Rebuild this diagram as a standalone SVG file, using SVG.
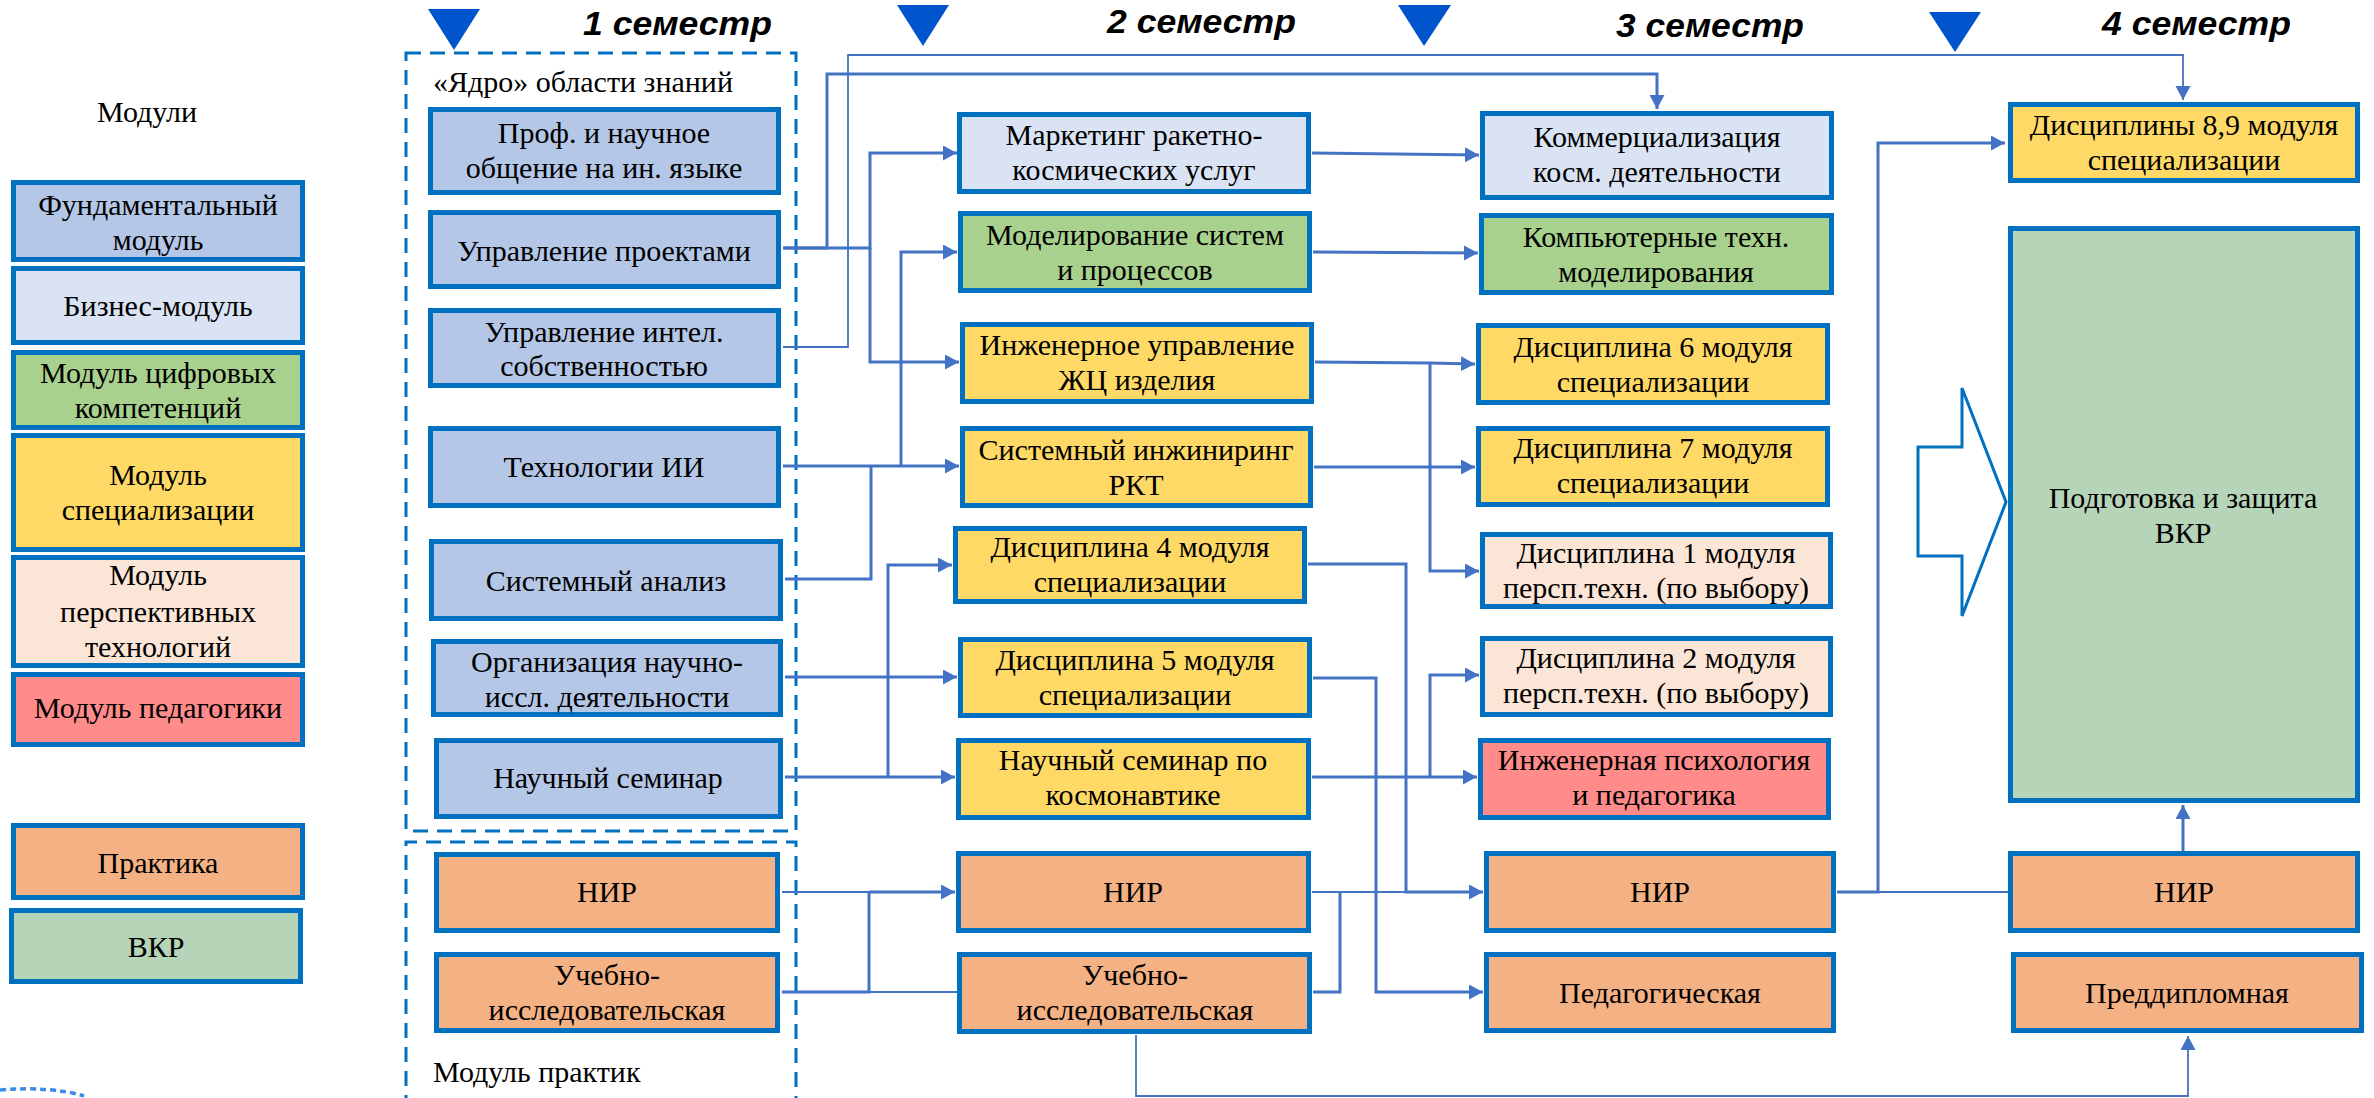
<svg xmlns="http://www.w3.org/2000/svg" width="2374" height="1098" viewBox="0 0 2374 1098">
<style>
.n{stroke:#0070C0;stroke-width:5}
.f{fill:#B4C7E7}.b{fill:#DAE3F3}.d{fill:#A9D18E}.s{fill:#FFD966}.p{fill:#FBE5D6}.g{fill:#FF8B8B}.pr{fill:#F4B183}.v{fill:#B6D4B7}
text{font-family:"Liberation Serif","Times New Roman",serif;font-size:30px;fill:#000}
.c{text-anchor:middle}
.sem{font-family:"Liberation Sans",Arial,sans-serif;font-weight:bold;font-style:italic;font-size:33px}
.l{fill:none;stroke:#4472C4;stroke-width:3}
.t{fill:none;stroke:#4472C4;stroke-width:1.8}
.dash{fill:none;stroke:#0070C0;stroke-width:3;stroke-dasharray:15 9}
.tri{fill:#0055CC}
</style>
<defs>
<marker id="a" markerUnits="userSpaceOnUse" markerWidth="16" markerHeight="16" refX="14" refY="7.5" orient="auto">
<path d="M0,0 L14,7.5 L0,15 z" fill="#4472C4"/>
</marker>
</defs>
<rect width="2374" height="1098" fill="#fff"/>

<!-- semester headers -->
<g id="semesters">
<polygon class="tri" points="428,9 480,9 454,50"/>
<polygon class="tri" points="897,5 949,5 923,46"/>
<polygon class="tri" points="1398,5 1451,5 1424,46"/>
<polygon class="tri" points="1929,12 1981,12 1955,52"/>
<text class="sem" x="583" y="35" textLength="189" lengthAdjust="spacingAndGlyphs">1 семестр</text>
<text class="sem" x="1107" y="33" textLength="189" lengthAdjust="spacingAndGlyphs">2 семестр</text>
<text class="sem" x="1616" y="37" textLength="188" lengthAdjust="spacingAndGlyphs">3 семестр</text>
<text class="sem" x="2102" y="35" textLength="189" lengthAdjust="spacingAndGlyphs">4 семестр</text>
</g>

<!-- legend -->
<g id="legend">
<text class="c" x="147" y="122">Модули</text>
<g id="leg-fund"><rect class="n f" x="13.5" y="182.5" width="289" height="77"/><text class="c" x="158" y="215">Фундаментальный</text><text class="c" x="158" y="250">модуль</text></g>
<g id="leg-bus"><rect class="n b" x="13.5" y="268.5" width="289" height="74"/><text class="c" x="158" y="316">Бизнес-модуль</text></g>
<g id="leg-dig"><rect class="n d" x="13.5" y="352.5" width="289" height="75"/><text class="c" x="158" y="383">Модуль цифровых</text><text class="c" x="158" y="418">компетенций</text></g>
<g id="leg-spec"><rect class="n s" x="13.5" y="435.5" width="289" height="114"/><text class="c" x="158" y="485">Модуль</text><text class="c" x="158" y="520">специализации</text></g>
<g id="leg-persp"><rect class="n p" x="13.5" y="557.5" width="289" height="108"/><text class="c" x="158" y="585">Модуль</text><text class="c" x="158" y="622">перспективных</text><text class="c" x="158" y="657">технологий</text></g>
<g id="leg-ped"><rect class="n g" x="13.5" y="674.5" width="289" height="70"/><text class="c" x="158" y="718">Модуль педагогики</text></g>
<g id="leg-prak"><rect class="n pr" x="13.5" y="825.5" width="289" height="72"/><text class="c" x="158" y="873">Практика</text></g>
<g id="leg-vkr"><rect class="n v" x="11.5" y="910.5" width="289" height="71"/><text class="c" x="156" y="957">ВКР</text></g>
<path d="M0,1090 Q50,1086 84,1096" fill="none" stroke="#3B8BEB" stroke-width="3.5" stroke-dasharray="6 4"/>
</g>

<!-- group frames -->
<g id="frames">
<rect class="dash" x="406" y="53" width="390" height="778"/>
<path class="dash" d="M406,1110 V842 H796 V1110"/>
<text x="433" y="92">«Ядро» области знаний</text>
<text x="433" y="1082">Модуль практик</text>
</g>

<!-- connectors -->
<g id="connectors">
<path class="l" d="M783,248 H827 V74 H1657 V109" marker-end="url(#a)"/>
<path class="l" d="M783,248 H870 V153 H957" marker-end="url(#a)"/>
<path class="l" d="M870,248 V362 H959" marker-end="url(#a)"/>
<path class="t" d="M783,347 H848 V55 H2183 V100" marker-end="url(#a)"/>
<path class="l" d="M783,466 H959" marker-end="url(#a)"/>
<path class="l" d="M901,466 V252 H957" marker-end="url(#a)"/>
<path class="l" d="M785,579 H871 V466"/>
<path class="l" d="M785,777 H955" marker-end="url(#a)"/>
<path class="l" d="M888,777 V565 H952" marker-end="url(#a)"/>
<path class="l" d="M785,677 H957" marker-end="url(#a)"/>
<path class="t" d="M782,892 H869"/>
<path class="l" d="M869,892 H955" marker-end="url(#a)"/>
<path class="l" d="M782,992 H869 V892"/>
<path class="t" d="M869,992 H957"/>
<path class="l" d="M1312,153 L1479,155" marker-end="url(#a)"/>
<path class="l" d="M1313,252 L1478,253" marker-end="url(#a)"/>
<path class="l" d="M1315,362 L1430,363 L1475,364" marker-end="url(#a)"/>
<path class="l" d="M1430,363 V571 H1479" marker-end="url(#a)"/>
<path class="l" d="M1314,467 H1475" marker-end="url(#a)"/>
<path class="l" d="M1308,564 H1406 V892 H1483" marker-end="url(#a)"/>
<path class="l" d="M1313,678 H1376 V992 H1483" marker-end="url(#a)"/>
<path class="l" d="M1312,777 H1477" marker-end="url(#a)"/>
<path class="l" d="M1430,777 V675 H1479" marker-end="url(#a)"/>
<path class="t" d="M1312,892 H1406"/>
<path class="l" d="M1313,992 H1340 V892"/>
<path class="t" d="M1136,1035 V1096 H2188 V1036" marker-end="url(#a)"/>
<path class="l" d="M1837,892 H1878 V143 H2005" marker-end="url(#a)"/>
<path class="t" d="M1878,892 H2008"/>
<path class="l" d="M2183,851 V805" marker-end="url(#a)"/>
<polygon points="1918,447 1962,447 1962,388 2006,502 1962,616 1962,556 1918,556" fill="#fff" stroke="#0070C0" stroke-width="3"/>
</g>

<!-- column 1 -->
<g id="n-prof"><rect class="n f" x="430.5" y="109.5" width="348" height="83"/><text class="c" x="604" y="143">Проф. и научное</text><text class="c" x="604" y="178">общение на ин. языке</text></g>
<g id="n-upr-proekt"><rect class="n f" x="430.5" y="212.5" width="348" height="74"/><text class="c" x="604" y="261">Управление проектами</text></g>
<g id="n-upr-intel"><rect class="n f" x="430.5" y="310.5" width="348" height="75"/><text class="c" x="604" y="342">Управление интел.</text><text class="c" x="604" y="376">собственностью</text></g>
<g id="n-tech-ii"><rect class="n f" x="430.5" y="428.5" width="348" height="77"/><text class="c" x="604" y="477">Технологии ИИ</text></g>
<g id="n-sys-an"><rect class="n f" x="431.5" y="541.5" width="349" height="77"/><text class="c" x="606" y="591">Системный анализ</text></g>
<g id="n-org"><rect class="n f" x="433.5" y="641.5" width="347" height="73"/><text class="c" x="607" y="672">Организация научно-</text><text class="c" x="607" y="707">иссл. деятельности</text></g>
<g id="n-sem"><rect class="n f" x="436.5" y="740.5" width="344" height="76"/><text class="c" x="608" y="788">Научный семинар</text></g>
<g id="n-nir1"><rect class="n pr" x="436.5" y="854.5" width="341" height="76"/><text class="c" x="607" y="902">НИР</text></g>
<g id="n-ucheb1"><rect class="n pr" x="436.5" y="954.5" width="341" height="76"/><text class="c" x="607" y="985">Учебно-</text><text class="c" x="607" y="1020">исследовательская</text></g>

<!-- column 2 -->
<g id="n-market"><rect class="n b" x="959.5" y="114.5" width="349" height="77"/><text class="c" x="1134" y="145">Маркетинг ракетно-</text><text class="c" x="1134" y="180">космических услуг</text></g>
<g id="n-model"><rect class="n d" x="960.5" y="213.5" width="349" height="77"/><text class="c" x="1135" y="245">Моделирование систем</text><text class="c" x="1135" y="280">и процессов</text></g>
<g id="n-inzh"><rect class="n s" x="962.5" y="324.5" width="349" height="77"/><text class="c" x="1137" y="355">Инженерное управление</text><text class="c" x="1137" y="390">ЖЦ изделия</text></g>
<g id="n-sysinzh"><rect class="n s" x="962.5" y="428.5" width="348" height="77"/><text class="c" x="1136" y="460">Системный инжиниринг</text><text class="c" x="1136" y="495">РКТ</text></g>
<g id="n-d4"><rect class="n s" x="955.5" y="528.5" width="349" height="73"/><text class="c" x="1130" y="557">Дисциплина 4 модуля</text><text class="c" x="1130" y="592">специализации</text></g>
<g id="n-d5"><rect class="n s" x="960.5" y="639.5" width="349" height="76"/><text class="c" x="1135" y="670">Дисциплина 5 модуля</text><text class="c" x="1135" y="705">специализации</text></g>
<g id="n-semk"><rect class="n s" x="958.5" y="740.5" width="350" height="77"/><text class="c" x="1133" y="770">Научный семинар по</text><text class="c" x="1133" y="805">космонавтике</text></g>
<g id="n-nir2"><rect class="n pr" x="958.5" y="853.5" width="350" height="77"/><text class="c" x="1133" y="902">НИР</text></g>
<g id="n-ucheb2"><rect class="n pr" x="959.5" y="954.5" width="350" height="77"/><text class="c" x="1135" y="985">Учебно-</text><text class="c" x="1135" y="1020">исследовательская</text></g>

<!-- column 3 -->
<g id="n-komm"><rect class="n b" x="1482.5" y="113.5" width="349" height="84"/><text class="c" x="1657" y="147">Коммерциализация</text><text class="c" x="1657" y="182">косм. деятельности</text></g>
<g id="n-komp"><rect class="n d" x="1481.5" y="215.5" width="350" height="77"/><text class="c" x="1656" y="247">Компьютерные техн.</text><text class="c" x="1656" y="282">моделирования</text></g>
<g id="n-d6"><rect class="n s" x="1478.5" y="325.5" width="349" height="77"/><text class="c" x="1653" y="357">Дисциплина 6 модуля</text><text class="c" x="1653" y="392">специализации</text></g>
<g id="n-d7"><rect class="n s" x="1478.5" y="428.5" width="349" height="76"/><text class="c" x="1653" y="458">Дисциплина 7 модуля</text><text class="c" x="1653" y="493">специализации</text></g>
<g id="n-dp1"><rect class="n p" x="1482.5" y="534.5" width="348" height="72"/><text class="c" x="1656" y="563">Дисциплина 1 модуля</text><text class="c" x="1656" y="598">персп.техн. (по выбору)</text></g>
<g id="n-dp2"><rect class="n p" x="1482.5" y="638.5" width="348" height="76"/><text class="c" x="1656" y="668">Дисциплина 2 модуля</text><text class="c" x="1656" y="703">персп.техн. (по выбору)</text></g>
<g id="n-inzhpsy"><rect class="n g" x="1480.5" y="740.5" width="348" height="77"/><text class="c" x="1654" y="770">Инженерная психология</text><text class="c" x="1654" y="805">и педагогика</text></g>
<g id="n-nir3"><rect class="n pr" x="1486.5" y="853.5" width="347" height="77"/><text class="c" x="1660" y="902">НИР</text></g>
<g id="n-ped"><rect class="n pr" x="1486.5" y="954.5" width="347" height="76"/><text class="c" x="1660" y="1003">Педагогическая</text></g>

<!-- column 4 -->
<g id="n-d89"><rect class="n s" x="2010.5" y="104.5" width="347" height="76"/><text class="c" x="2184" y="135">Дисциплины 8,9 модуля</text><text class="c" x="2184" y="170">специализации</text></g>
<g id="n-vkr"><rect class="n v" x="2010.5" y="228.5" width="347" height="572"/><text class="c" x="2183" y="508">Подготовка и защита</text><text class="c" x="2183" y="543">ВКР</text></g>
<g id="n-nir4"><rect class="n pr" x="2010.5" y="853.5" width="347" height="77"/><text class="c" x="2184" y="902">НИР</text></g>
<g id="n-predd"><rect class="n pr" x="2013.5" y="954.5" width="348" height="76"/><text class="c" x="2187" y="1003">Преддипломная</text></g>
</svg>
